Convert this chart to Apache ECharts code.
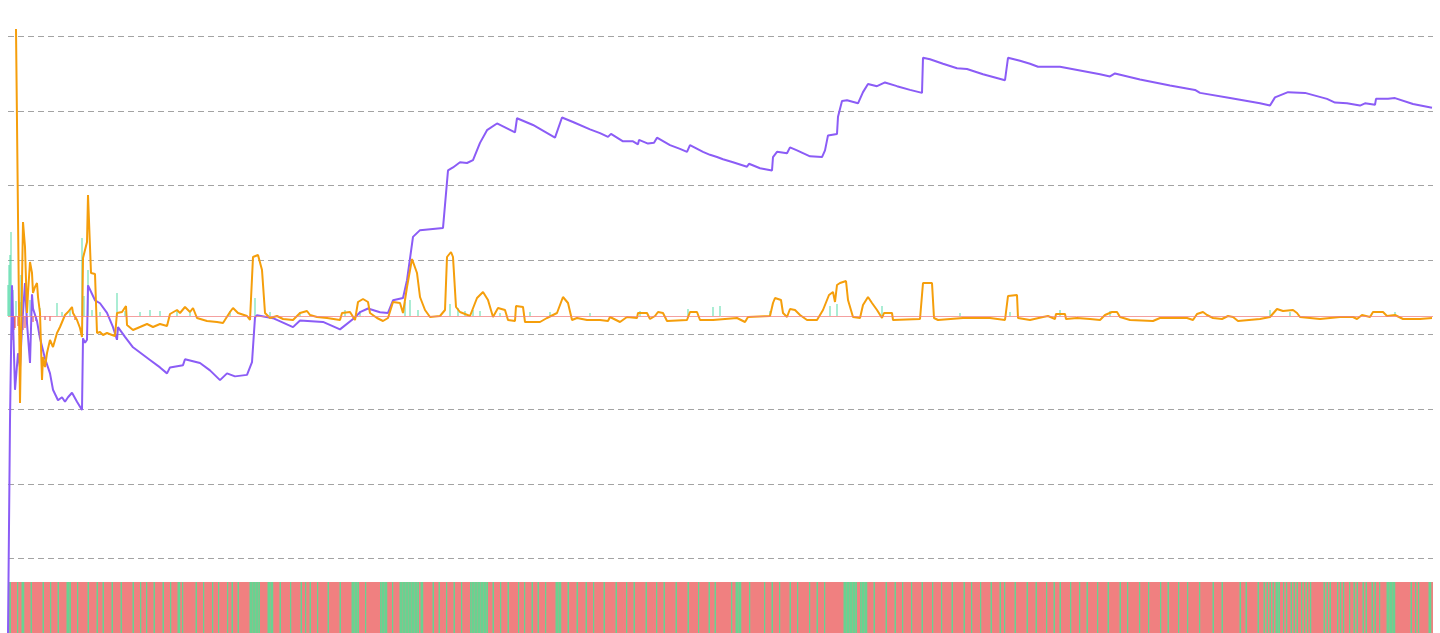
<!DOCTYPE html>
<html><head><meta charset="utf-8">
<style>html,body{margin:0;padding:0;background:#fff}#chart{width:1440px;height:633px}</style>
<script src="https://cdn.jsdelivr.net/npm/echarts@6/dist/echarts.min.js"></script>
</head><body><div id="chart"></div>
<script>
// Equity curve (purple) - trade index and value
const equityIdx = [0,2,4,7,10,12,14,17,19,22,24,25,29,32,37,42,45,50,54,57,60,64,69,74,75,77,79,80,87,92,99,105,109,110,117,125,142,152,159,162,175,177,192,202,212,219,227,239,244,247,249,265,285,292,315,332,347,352,360,372,380,385,395,399,405,412,435,440,445,452,459,465,472,479,489,495,507,509,525,547,554,565,582,592,600,603,615,625,630,631,640,646,649,662,672,679,682,695,702,709,715,725,739,741,752,764,765,769,779,782,789,802,814,817,820,829,830,834,839,850,855,860,869,877,889,902,914,915,922,935,949,959,975,997,1000,1012,1022,1030,1042,1052,1072,1092,1102,1107,1132,1162,1187,1192,1222,1252,1262,1267,1280,1297,1319,1327,1339,1352,1357,1367,1368,1380,1387,1405,1424];
const equityVal = [-10.0,18.5,36.6,22.6,27.5,25.6,31.0,36.9,31.5,26.2,35.4,33.5,31.8,29.5,26.8,24.8,22.6,21.2,21.6,21.0,21.6,22.2,21.0,19.9,29.5,28.9,29.3,36.6,34.6,34.2,32.9,31.0,29.3,31.0,29.7,28.3,26.6,25.6,24.8,25.6,25.9,26.7,26.2,25.2,23.9,24.8,24.4,24.6,26.3,32.3,32.6,32.2,31.0,31.9,31.7,30.7,32.3,33.0,33.5,33.0,32.9,34.6,34.9,37.3,43.1,44.0,44.3,52.0,52.4,53.1,53.0,53.4,55.7,57.4,58.3,57.9,57.1,59.0,58.1,56.4,59.1,58.5,57.5,57.0,56.5,56.9,55.9,55.9,55.5,56.1,55.6,55.7,56.4,55.4,54.9,54.5,55.4,54.5,54.1,53.8,53.5,53.1,52.5,52.9,52.3,52.0,53.8,54.5,54.3,55.1,54.7,53.9,53.8,54.7,56.7,56.9,59.2,61.3,61.4,61.0,62.5,63.6,63.3,63.8,63.3,62.8,62.4,67.1,66.9,66.3,65.7,65.6,64.9,64.1,67.1,66.7,66.3,65.9,65.9,65.9,65.4,64.9,64.6,65.0,64.2,63.4,62.8,62.4,61.7,61.0,60.7,61.8,62.5,62.4,61.6,61.1,61.0,60.7,61.0,60.8,61.6,61.6,61.7,60.9,60.4];

// Ratio line (orange)
const ratioIdx = [8,12,15,17,19,20,22,24,25,27,29,30,32,34,35,37,39,42,45,49,52,57,60,64,65,69,72,74,75,77,79,80,82,83,87,89,92,95,99,104,107,109,114,118,119,125,132,139,145,152,159,162,169,172,177,182,185,189,199,209,215,222,225,230,239,242,245,250,254,256,257,262,269,275,285,292,299,302,309,319,332,334,342,347,350,355,360,362,369,375,380,385,392,395,399,404,409,412,417,422,432,437,439,443,445,448,452,462,469,475,480,485,490,497,500,507,508,515,517,532,539,549,555,560,564,569,579,592,600,602,612,619,629,630,639,642,647,650,655,659,679,682,689,692,705,729,737,740,762,765,767,773,775,779,782,787,792,799,809,815,821,825,827,829,832,838,840,845,852,855,860,864,869,874,876,884,885,912,915,924,926,930,955,982,997,1000,1009,1010,1022,1035,1040,1047,1048,1057,1058,1069,1082,1092,1097,1104,1109,1112,1122,1145,1152,1179,1185,1189,1195,1199,1205,1214,1220,1225,1230,1252,1262,1269,1275,1285,1289,1292,1312,1332,1345,1349,1354,1362,1365,1375,1379,1387,1395,1412,1424];
const ratioVal = [28.7,-8.7,9.4,6.9,0.3,2.3,5.4,4.3,2.3,2.9,3.3,1.9,0.3,-6.4,-4.1,-5.1,-3.7,-2.4,-3.1,-1.7,-1.1,0.1,0.4,0.9,0.3,-0.4,-1.2,-2.1,5.8,5.9,7.4,12.1,12.0,4.3,4.2,-1.7,-1.6,-1.9,-1.7,-1.9,-2.0,0.3,0.4,1.0,-0.9,-1.4,-1.1,-0.8,-1.1,-0.8,-1.0,0.2,0.6,0.3,0.9,0.4,0.8,-0.2,-0.5,-0.6,-0.7,0.4,0.8,0.3,0.0,-0.4,5.9,6.1,4.6,4.4,0.3,-0.2,0.0,-0.3,-0.4,0.3,0.5,0.1,-0.1,-0.2,-0.4,0.3,0.4,-0.4,1.4,1.7,1.4,0.3,-0.2,-0.5,-0.2,1.4,1.3,0.3,2.9,5.7,4.3,1.9,0.6,-0.1,0.0,0.6,5.9,6.4,5.9,0.9,0.4,0.0,1.8,2.4,1.6,-0.1,0.8,0.6,-0.4,-0.5,1.0,0.9,-0.6,-0.6,-0.2,0.3,1.9,1.3,-0.4,-0.2,-0.4,-0.4,-0.5,-0.1,-0.6,-0.1,-0.2,0.3,0.3,-0.3,0.0,0.4,0.3,-0.5,-0.4,0.4,0.4,-0.4,-0.4,-0.2,-0.6,-0.1,0.0,1.3,1.8,1.6,0.3,-0.1,0.7,0.6,0.1,-0.4,-0.4,0.6,2.1,2.4,1.4,3.1,3.3,3.5,1.6,-0.1,-0.2,1.1,1.9,1.3,0.6,-0.2,0.3,0.3,-0.4,-0.3,3.3,3.3,-0.2,-0.4,-0.2,-0.2,-0.4,2.0,2.1,-0.2,-0.4,-0.1,0.0,-0.3,0.2,0.2,-0.3,-0.2,-0.3,-0.4,0.1,0.4,0.4,-0.1,-0.4,-0.5,-0.2,-0.2,-0.4,0.2,0.4,0.1,-0.2,-0.3,0.0,-0.1,-0.5,-0.3,-0.1,0.7,0.5,0.6,0.3,-0.1,-0.3,-0.1,-0.1,-0.3,0.1,-0.1,0.4,0.4,0.0,0.1,-0.3,-0.3,-0.2];

// Per-trade result bars (green up / red down)
const pnlIdx = [0,1,2,3,4,5,6,7,8,10,12,13,14,15,17,19,22,25,28,32,37,42,49,54,62,67,74,76,80,84,92,109,117,132,142,152,169,182,222,247,262,292,337,352,397,402,410,442,450,457,465,472,492,522,542,582,632,680,705,712,762,822,829,874,952,1002,1052,1102,1262,1282,1387];
const pnlVal = [3.1,5.1,6.1,8.4,-2.4,2.6,-1.4,-1.2,1.5,-1.0,1.4,4.1,3.0,-1.4,-1.2,-0.8,1.6,-0.6,-0.5,0.8,-0.4,-0.5,1.3,0.4,0.6,-0.4,7.8,2.0,4.6,0.6,0.4,2.3,0.5,0.4,0.6,0.5,0.6,0.4,0.5,1.8,0.4,0.4,0.6,0.5,1.4,1.6,0.6,1.2,0.8,0.5,0.6,0.5,0.3,0.4,0.4,0.3,0.5,0.7,0.9,1.0,0.5,1.0,1.2,1.0,0.3,0.4,0.6,0.5,0.6,0.4,0.4];

// Win (1) / loss (0) strip
const outcomes = [
 "1100001001","1000010000","0001000010","0001000001","1100001000",
 "0001000001","0001000001","0000010000","0001000010","0010000100",
 "0001000010","0001101000","0000010000","1000001000","1000001001",
 "0001000000","0111111100","0001111000","0100000010","0000010010",
 "0100001000","0001000000","0100000001","1111000010","0000000011",
 "1110001000","0111111111","1111011000","0001000100","0010000100",
 "0010000011","1111111111","0001000010","0001000000","1000100001",
 "0001000010","0000011110","0001000001","0000010000","1000000100",
 "0000010000","0010000100","0000010000","0010000100","0000010000",
 "0001000000","1000000100","0100000000","0010011110","0000100000",
 "0000100001","0000100000","0100001000","0000100001","0000100000",
 "0000000111","1111110011","1110000100","0000010000","0100001000",
 "0010000001","0000001000","0010000001","0000000100","0010000010",
 "0000010000","0100100000","0100000001","0000010000","0010000100",
 "0100000010","0000100001","0000001000","0001000000","0100001000",
 "0000100000","1000000010","0001000000","1000001000","0000100000",
 "0001000001","0000000000","0100010000","0001000101","0101011100",
 "1010010101","0010101010","0000000101","0100001010","1000100101",
 "0001010001","0100100001","1111100000","0000010010","1000000110"
].join('');

const zip = (a, b) => a.map((x, i) => [x, b[i]]);
const stripCats = outcomes.split('').map((_, i) => i);
const stripData = outcomes.split('').map(c => ({
  value: 1,
  itemStyle: { color: c === '1' ? '#68d391' : '#f08080' }
}));

const chart = echarts.init(document.getElementById('chart'), null, { renderer: 'canvas' });
chart.setOption({
  animation: false,
  backgroundColor: '#ffffff',
  grid: [
    { left: 8, right: 7, top: 0, bottom: 0, containLabel: false },
    { left: 8, right: 7, top: 582, bottom: 0, show: true, backgroundColor: '#f08080', borderWidth: 0, containLabel: false }
  ],
  xAxis: [
    { type: 'value', gridIndex: 0, min: 0, max: 1425, show: false },
    { type: 'category', gridIndex: 1, data: stripCats, show: false, boundaryGap: true }
  ],
  yAxis: [
    { type: 'value', gridIndex: 0, min: -10, max: 74.85, interval: 10,
      axisLine: { show: false }, axisTick: { show: false }, axisLabel: { show: false },
      splitLine: { show: true, showMinLine: false, showMaxLine: false,
        lineStyle: { color: '#a3a3a3', type: [6, 4], width: 1 } } },
    { type: 'value', gridIndex: 0, min: -31.7, max: 31.6, show: false, splitLine: { show: false } },
    { type: 'value', gridIndex: 1, min: 0, max: 1, show: false, splitLine: { show: false } }
  ],
  series: [
    { type: 'bar', xAxisIndex: 1, yAxisIndex: 2, data: stripData, barCategoryGap: '0%', barGap: '0%', silent: true },
    { type: 'bar', xAxisIndex: 0, yAxisIndex: 1, data: zip(pnlIdx, pnlVal), barWidth: 1.2, silent: true,
      itemStyle: { color: p => p.value[1] >= 0 ? 'rgba(52,211,153,0.7)' : 'rgba(220,38,38,0.75)' },
      markLine: { silent: true, symbol: 'none', label: { show: false },
        lineStyle: { color: 'rgba(240,128,128,0.75)', type: 'solid', width: 1 },
        data: [{ yAxis: 0 }] } },
    { type: 'line', xAxisIndex: 0, yAxisIndex: 0, data: zip(equityIdx, equityVal), showSymbol: false,
      lineStyle: { color: '#8b5cf6', width: 2 }, itemStyle: { color: '#8b5cf6' }, silent: true },
    { type: 'line', xAxisIndex: 0, yAxisIndex: 1, data: zip(ratioIdx, ratioVal), showSymbol: false,
      lineStyle: { color: '#f59e0b', width: 2 }, itemStyle: { color: '#f59e0b' }, silent: true }
  ]
});
</script>
</body></html>
